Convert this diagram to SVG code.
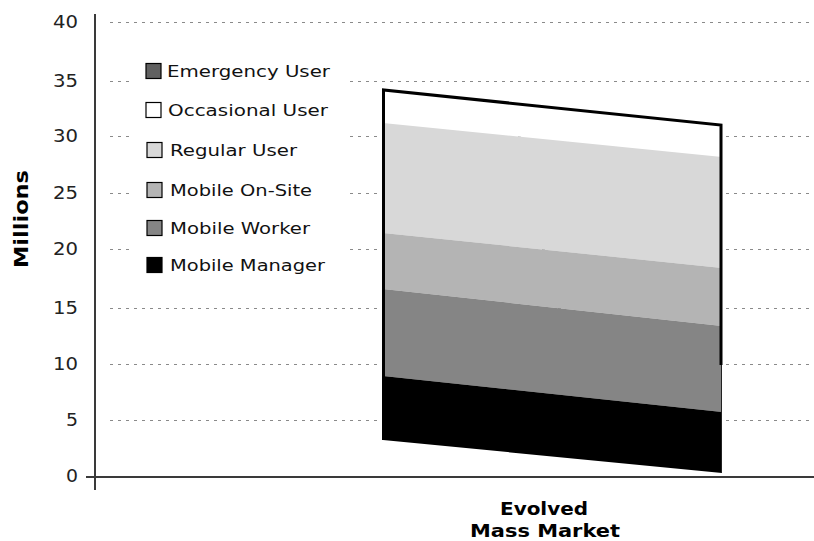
<svg xmlns="http://www.w3.org/2000/svg" width="814" height="541" viewBox="0 0 814 541">
  <style>
    .grid { stroke: #8a8a8a; stroke-width: 1; stroke-dasharray: 3 5; fill: none; }
    .axis { stroke: #3a3a3a; stroke-width: 2; fill: none; }
    .tick { font-family: "DejaVu Sans", "Liberation Sans", sans-serif; font-size: 18px; fill: #222; text-anchor: end; }
    .leg { font-family: "DejaVu Sans", "Liberation Sans", sans-serif; font-size: 16.5px; fill: #111; }
    .sw { stroke: #000; stroke-width: 1.2; }
    .bold { font-family: "DejaVu Sans", "Liberation Sans", sans-serif; font-weight: bold; fill: #000; }
    .edge { stroke: #000; stroke-width: 3; fill: none; stroke-linejoin: miter; }
  </style>
  <rect width="814" height="541" fill="#fff"/>

  <!-- horizontal gridlines every 5 million -->
  <g id="gridlines">
    <line class="grid" x1="110" y1="22.5" x2="814" y2="22.5"/>
    <line class="grid" x1="110" y1="81.5" x2="814" y2="81.5"/>
    <line class="grid" x1="110" y1="136.5" x2="814" y2="136.5"/>
    <line class="grid" x1="110" y1="193.5" x2="814" y2="193.5"/>
    <line class="grid" x1="110" y1="249.5" x2="814" y2="249.5"/>
    <line class="grid" x1="110" y1="308.5" x2="814" y2="308.5"/>
    <line class="grid" x1="110" y1="364.5" x2="814" y2="364.5"/>
    <line class="grid" x1="110" y1="420.5" x2="814" y2="420.5"/>
  </g>

  <!-- y-axis tick labels -->
  <g id="y-ticks">
    <text class="tick" x="78" y="28" textLength="25" lengthAdjust="spacingAndGlyphs">40</text>
    <text class="tick" x="78" y="87" textLength="25" lengthAdjust="spacingAndGlyphs">35</text>
    <text class="tick" x="78" y="142" textLength="25" lengthAdjust="spacingAndGlyphs">30</text>
    <text class="tick" x="78" y="199" textLength="25" lengthAdjust="spacingAndGlyphs">25</text>
    <text class="tick" x="78" y="255" textLength="25" lengthAdjust="spacingAndGlyphs">20</text>
    <text class="tick" x="78" y="314" textLength="25" lengthAdjust="spacingAndGlyphs">15</text>
    <text class="tick" x="78" y="370" textLength="25" lengthAdjust="spacingAndGlyphs">10</text>
    <text class="tick" x="78" y="426" textLength="12" lengthAdjust="spacingAndGlyphs">5</text>
    <text class="tick" x="78" y="482" textLength="12" lengthAdjust="spacingAndGlyphs">0</text>
  </g>

  <g id="y-title">
    <text class="bold" font-size="19" text-anchor="middle" transform="translate(28,219) rotate(-90)" textLength="98" lengthAdjust="spacingAndGlyphs">Millions</text>
  </g>

  <!-- stacked column: Evolved Mass Market -->
  <g id="bar-evolved-mass-market">
    <polygon fill="#ffffff" points="383,90 722,125 722,157 383,123"/>
    <polygon fill="#d8d8d8" points="383,123 722,157 722,268 383,233"/>
    <polygon fill="#b4b4b4" points="383,233 722,268 722,326 383,289"/>
    <polygon fill="#858585" points="383,289 722,326 722,412 383,376"/>
    <polygon fill="#000000" points="383,376 722,412 722,473 383,440"/>
    <polyline class="edge" points="383.5,440 383.5,90 721,125 721,365"/>
    <line x1="721.5" y1="365" x2="721.5" y2="473" stroke="#222" stroke-width="1"/>
  </g>

  <!-- axes -->
  <g id="axes">
    <line class="axis" x1="95" y1="14" x2="95" y2="490"/>
    <line class="axis" x1="86" y1="477" x2="814" y2="477"/>
  </g>

  <!-- legend -->
  <g id="legend">
    <rect x="130" y="40" width="220" height="250" fill="#fff"/>
    <g id="legend-emergency-user">
      <rect class="sw" x="146" y="63.5" width="15" height="15" fill="#606060"/>
      <text class="leg" x="167" y="77" textLength="163" lengthAdjust="spacingAndGlyphs">Emergency User</text>
    </g>
    <g id="legend-occasional-user">
      <rect class="sw" x="146" y="102.5" width="15" height="15" fill="#ffffff"/>
      <text class="leg" x="168" y="116" textLength="160" lengthAdjust="spacingAndGlyphs">Occasional User</text>
    </g>
    <g id="legend-regular-user">
      <rect class="sw" x="147" y="142.5" width="15" height="15" fill="#d8d8d8"/>
      <text class="leg" x="170" y="156" textLength="127" lengthAdjust="spacingAndGlyphs">Regular User</text>
    </g>
    <g id="legend-mobile-on-site">
      <rect class="sw" x="147" y="182.5" width="15" height="15" fill="#b4b4b4"/>
      <text class="leg" x="170" y="196" textLength="142" lengthAdjust="spacingAndGlyphs">Mobile On-Site</text>
    </g>
    <g id="legend-mobile-worker">
      <rect class="sw" x="147" y="220.5" width="15" height="15" fill="#858585"/>
      <text class="leg" x="170" y="234" textLength="140" lengthAdjust="spacingAndGlyphs">Mobile Worker</text>
    </g>
    <g id="legend-mobile-manager">
      <rect class="sw" x="147" y="257.5" width="15" height="15" fill="#000000"/>
      <text class="leg" x="170" y="271" textLength="155" lengthAdjust="spacingAndGlyphs">Mobile Manager</text>
    </g>
  </g>

  <!-- category label -->
  <g id="x-category">
    <text class="bold" font-size="17" text-anchor="middle" x="544" y="515" textLength="88" lengthAdjust="spacingAndGlyphs">Evolved</text>
    <text class="bold" font-size="17" text-anchor="middle" x="545" y="537" textLength="150" lengthAdjust="spacingAndGlyphs">Mass Market</text>
  </g>
</svg>
